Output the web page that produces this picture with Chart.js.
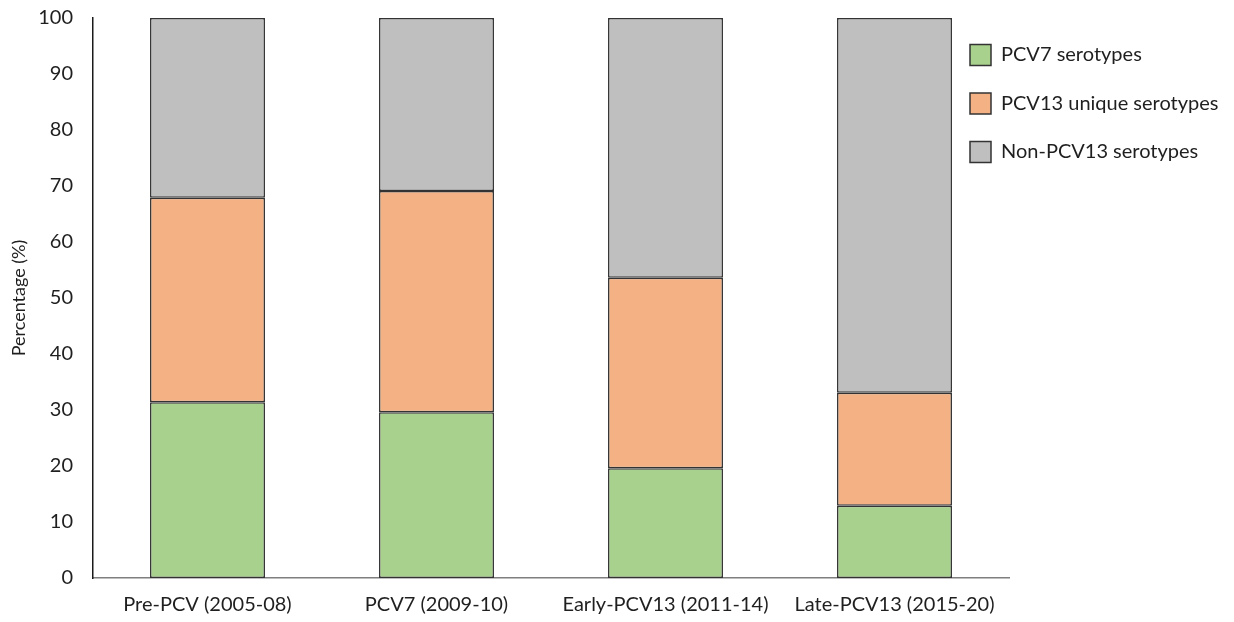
<!DOCTYPE html>
<html>
<head>
<meta charset="utf-8">
<title>Serotype distribution by period</title>
<script src="https://cdn.jsdelivr.net/npm/chart.js@4"></script>
<style>
  html, body { margin: 0; padding: 0; background: #fff; }
  #wrap { width: 1234px; height: 622px; }
</style>
</head>
<body>
<div id="wrap"><canvas id="serotypeChart" width="1234" height="622"></canvas></div>
<script>
// periods on the x axis
const periods = ['Pre-PCV (2005-08)', 'PCV7 (2009-10)', 'Early-PCV13 (2011-14)', 'Late-PCV13 (2015-20)'];

// share of cases (%) per serotype group, stacked bottom to top
const pcv7Share = [31.4, 29.6, 19.6, 12.9];
const pcv13UniqueShare = [36.5, 39.5, 34.0, 20.2];
const nonPcv13Share = [32.1, 30.9, 46.4, 66.9];

const yTicks = [0, 10, 20, 30, 40, 50, 60, 70, 80, 90, 100];

const FONT = 'Lato, "Noto Sans", sans-serif';
const TEXT = '#1f1f1f';

// legend drawn by hand on the right side of the plot
const sideLegend = {
  id: 'sideLegend',
  afterDraw(chart) {
    const ctx = chart.ctx;
    const x0 = 970, y0 = 55, gap = 48.5, box = 21;
    ctx.save();
    ctx.font = '20px ' + FONT;
    ctx.textBaseline = 'middle';
    chart.data.datasets.forEach((ds, i) => {
      const cy = y0 + i * gap;
      ctx.fillStyle = ds.backgroundColor;
      ctx.fillRect(x0, cy - box / 2, box, box);
      ctx.strokeStyle = '#333';
      ctx.lineWidth = 1.5;
      ctx.strokeRect(x0, cy - box / 2, box, box);
      ctx.fillStyle = TEXT;
      ctx.fillText(ds.label, x0 + 31, cy);
    });
    ctx.restore();
  }
};

const barStyle = {
  borderColor: '#333333',
  borderWidth: 1.5,
  borderSkipped: false,
  barPercentage: 0.502,
  categoryPercentage: 1.0
};

new Chart(document.getElementById('serotypeChart'), {
  type: 'bar',
  data: {
    labels: periods,
    datasets: [
      Object.assign({ label: 'PCV7 serotypes', data: pcv7Share, backgroundColor: '#A9D18E' }, barStyle),
      Object.assign({ label: 'PCV13 unique serotypes', data: pcv13UniqueShare, backgroundColor: '#F4B183' }, barStyle),
      Object.assign({ label: 'Non-PCV13 serotypes', data: nonPcv13Share, backgroundColor: '#BFBFBF' }, barStyle)
    ]
  },
  options: {
    responsive: false,
    animation: false,
    layout: { padding: { top: 18, right: 225, left: 0, bottom: 0 } },
    plugins: {
      legend: { display: false },
      tooltip: { enabled: false }
    },
    scales: {
      x: {
        stacked: true,
        grid: { display: false, drawTicks: false },
        border: { display: true, color: '#7f7f7f', width: 1.5 },
        ticks: { color: TEXT, font: { family: FONT, size: 20 }, padding: 15, maxRotation: 0 },
        afterFit(scale) {
          scale.height = 44;
          scale.paddingLeft = 0;
          scale.paddingRight = 0;
        }
      },
      y: {
        stacked: true,
        min: 0,
        max: 100,
        afterBuildTicks(scale) { scale.ticks = yTicks.map(v => ({ value: v })); },
        grid: { display: false, drawTicks: false },
        border: { display: true, color: '#1a1a1a', width: 1.5 },
        ticks: { color: TEXT, font: { family: FONT, size: 20 }, padding: 20 },
        title: {
          display: true,
          text: 'Percentage (%)',
          color: TEXT,
          font: { family: FONT, size: 18 },
          padding: { top: 8, bottom: 0 }
        },
        afterFit(scale) {
          scale.width = 93;
          scale.paddingTop = 0;
          scale.paddingBottom = 0;
        }
      }
    }
  },
  plugins: [sideLegend]
});
</script>
</body>
</html>
